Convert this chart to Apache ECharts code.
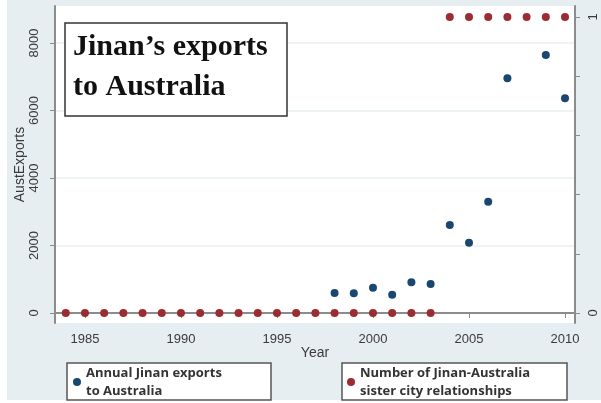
<!DOCTYPE html>
<html><head><meta charset="utf-8">
<script src="https://cdn.jsdelivr.net/npm/echarts@6/dist/echarts.min.js"></script>
<style>html,body{margin:0;padding:0;background:#fff}#c{width:601px;height:403px}</style>
</head><body><div id="c"></div>
<script>
const exportYears = [1998, 1999, 2000, 2001, 2002, 2003, 2004, 2005, 2006, 2007, 2009, 2010];
const exportValues = [593, 584, 750, 543, 909, 859, 2607, 2083, 3298, 6954, 7644, 6361];
const sisterYears = [1984, 1985, 1986, 1987, 1988, 1989, 1990, 1991, 1992, 1993, 1994, 1995, 1996, 1997, 1998, 1999, 2000, 2001, 2002, 2003, 2004, 2005, 2006, 2007, 2008, 2009, 2010];
const sisterValues = [0, 0, 0, 0, 0, 0, 0, 0, 0, 0, 0, 0, 0, 0, 0, 0, 0, 0, 0, 0, 1, 1, 1, 1, 1, 1, 1];
const xTicks = [1985, 1990, 1995, 2000, 2005, 2010];
const leftTicks = [0, 2000, 4000, 6000, 8000];
const rightTicks = [0, 0.2, 0.4, 0.6, 0.8, 1];
const rightLabels = [0, 1];
const exportName = 'Annual Jinan exports\nto Australia';
const sisterName = 'Number of Jinan-Australia\nsister city relationships';
const titleText = 'Jinan\u2019s exports\nto Australia';

const chart = echarts.init(document.getElementById('c'), null, {renderer: 'canvas'});
const axisCol = '#8c8c8c';
const labCol = '#3a3a3a';
const plain = v => String(v);
const legendBase = {
  orient: 'vertical', icon: 'circle', itemWidth: 8, itemHeight: 8,
  borderColor: '#555', borderWidth: 1.5, backgroundColor: '#fff',
  top: 363,
  textStyle: {fontSize: 13, fontWeight: 'bold', color: '#333', lineHeight: 18, fontFamily: 'Open Sans'}
};
chart.setOption({
  backgroundColor: '#fff',
  animation: false,
  graphic: [
    {type: 'rect', z: -10, shape: {x: 7, y: 0, width: 594, height: 400}, style: {fill: '#e6eef2'}},
    {type: 'rect', z: 100, shape: {x: 65, y: 23, width: 222, height: 93}, style: {fill: '#fff', stroke: '#333', lineWidth: 1.5}},
    {type: 'text', z: 101, x: 73, y: 27, style: {text: titleText, font: 'bold 30px "Liberation Serif"', lineHeight: 40, fill: '#111'}}
  ],
  grid: {left: 55, right: 26, top: 6, bottom: 80, show: true, backgroundColor: '#fff', borderWidth: 0, outerBoundsMode: 'none', containLabel: false},
  xAxis: {
    type: 'value', min: 1983.44, max: 2010.52,
    name: 'Year', nameLocation: 'middle', nameGap: 23, nameMoveOverlap: false,
    nameTextStyle: {fontSize: 14, color: labCol, fontFamily: 'Liberation Sans'},
    axisLine: {show: true, lineStyle: {color: axisCol, width: 2}},
    axisTick: {show: true, length: 5, customValues: xTicks, lineStyle: {color: axisCol}},
    axisLabel: {customValues: xTicks, formatter: plain, fontSize: 13, color: labCol, margin: 10, fontFamily: 'Liberation Sans'},
    splitLine: {show: false}
  },
  yAxis: [
    {
      type: 'value', position: 'left', min: -296, max: 9096,
      name: 'AustExports', nameLocation: 'middle', nameGap: 28, nameRotate: 90, nameMoveOverlap: false,
      nameTextStyle: {fontSize: 14, color: labCol, fontFamily: 'Liberation Sans'},
      axisLine: {show: true, lineStyle: {color: axisCol, width: 2}},
      axisTick: {show: true, length: 5, customValues: leftTicks, lineStyle: {color: axisCol}},
      axisLabel: {customValues: leftTicks, formatter: plain, rotate: 90, fontSize: 13, color: labCol, margin: 14, fontFamily: 'Liberation Sans'},
      splitLine: {show: true, lineStyle: {color: '#e8f0f2', width: 1.5}}
    },
    {
      type: 'value', position: 'right', min: -0.0338, max: 1.037,
      axisLine: {show: true, lineStyle: {color: axisCol, width: 2}},
      axisTick: {show: true, length: 5, customValues: rightTicks, lineStyle: {color: axisCol}},
      axisLabel: {customValues: rightLabels, formatter: plain, rotate: 90, fontSize: 13, color: labCol, margin: 12, fontFamily: 'Liberation Sans'},
      splitLine: {show: false}
    }
  ],
  legend: [
    Object.assign({}, legendBase, {data: [exportName], left: 67, padding: [1, 0, 0, 6],
      textStyle: Object.assign({}, legendBase.textStyle, {width: 185})}),
    Object.assign({}, legendBase, {data: [sisterName], left: 342, padding: [1, 0, 0, 5],
      textStyle: Object.assign({}, legendBase.textStyle, {width: 207})})
  ],
  series: [
    {
      name: exportName, type: 'scatter', yAxisIndex: 0, symbolSize: 8,
      itemStyle: {color: '#1a476f', opacity: 1},
      data: exportYears.map((y, i) => [y, exportValues[i]])
    },
    {
      name: sisterName, type: 'scatter', yAxisIndex: 1, symbolSize: 8,
      itemStyle: {color: '#9b2d32', opacity: 1},
      data: sisterYears.map((y, i) => [y, sisterValues[i]])
    }
  ]
});
</script></body></html>
